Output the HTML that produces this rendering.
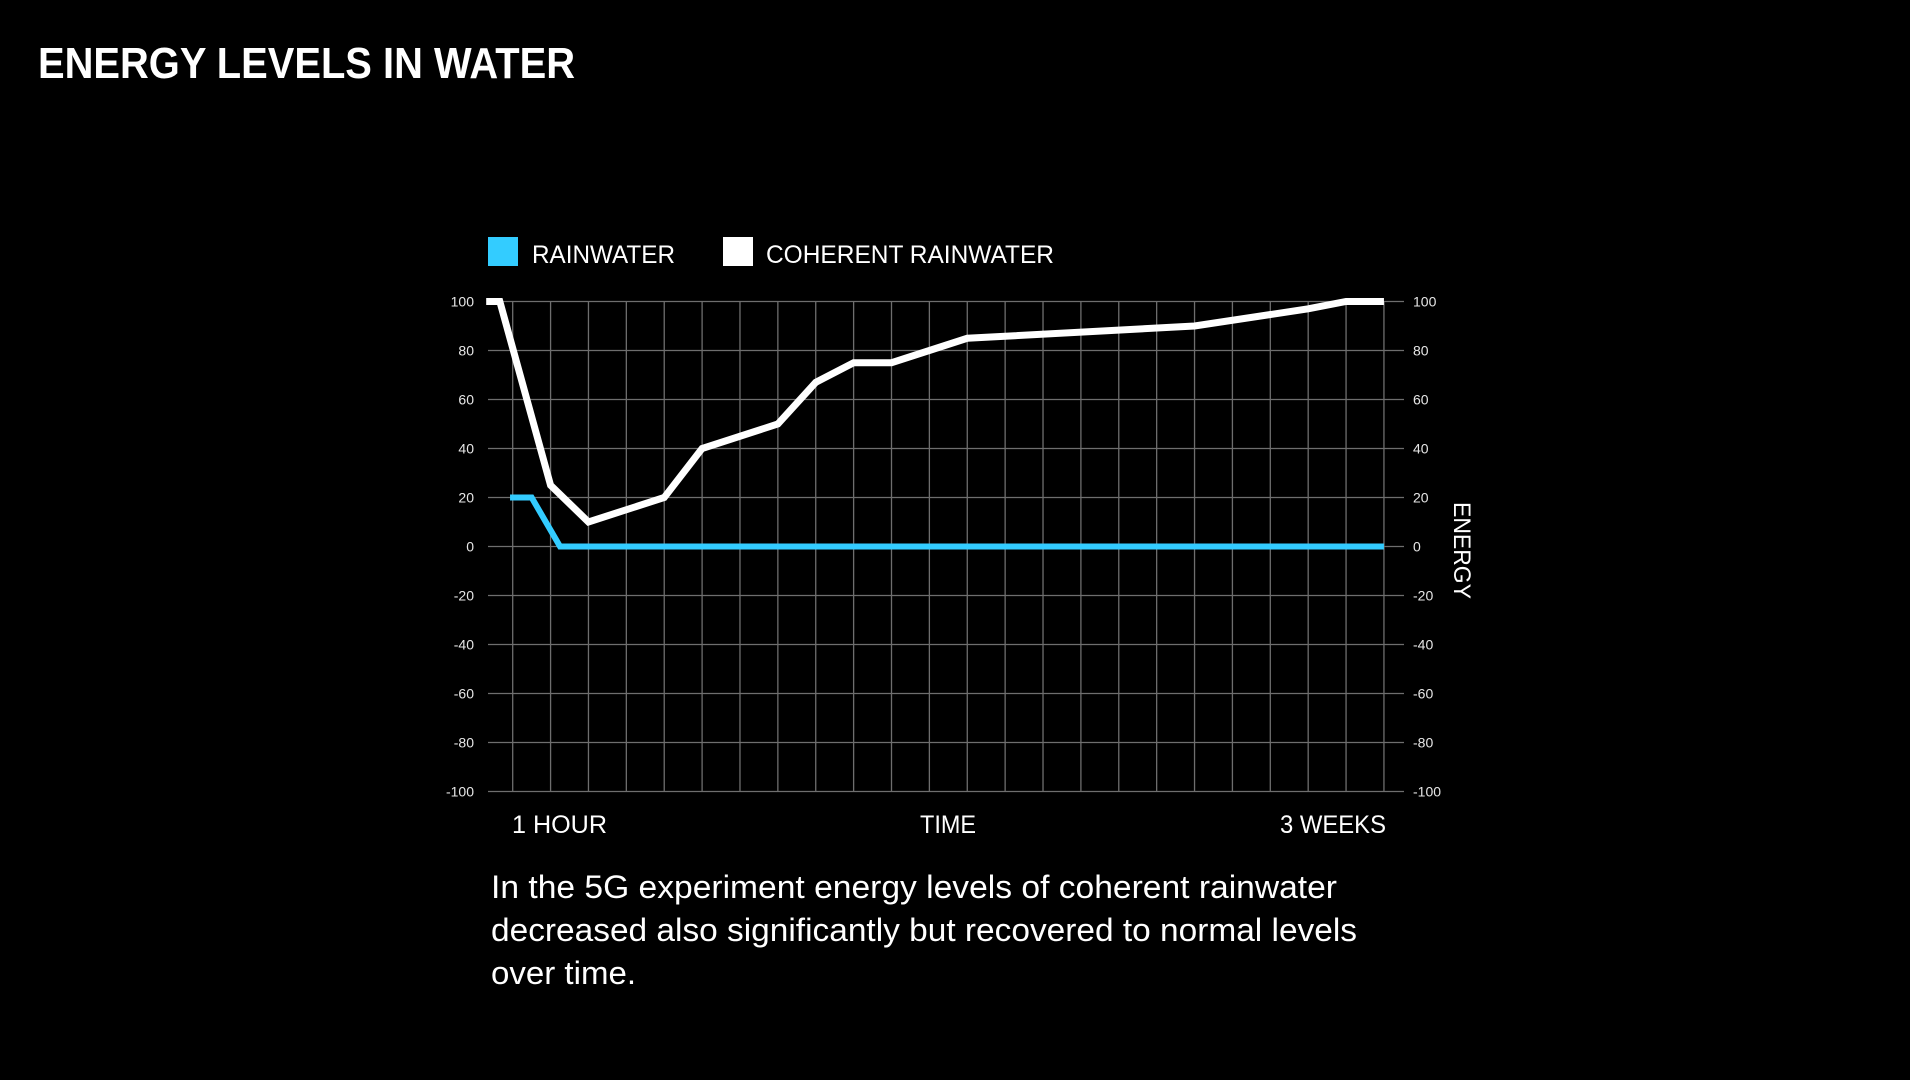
<!DOCTYPE html>
<html><head><meta charset="utf-8"><style>
html,body{margin:0;padding:0;background:#000;}
svg{display:block;}
text{font-family:"Liberation Sans",sans-serif;}
</style></head><body>
<svg id="chart" width="1910" height="1080" viewBox="0 0 1910 1080">
<rect x="0" y="0" width="1910" height="1080" fill="#000"/>
<text x="38" y="78" fill="#fff" font-size="44" font-weight="bold" textLength="537" lengthAdjust="spacingAndGlyphs">ENERGY LEVELS IN WATER</text>
<g>
<g>
<rect x="488" y="237" width="30" height="29" fill="#33ccff"/>
<text x="532" y="263" fill="#fff" font-size="25" textLength="143" lengthAdjust="spacingAndGlyphs">RAINWATER</text>
</g>
<g>
<rect x="723" y="237" width="30" height="29" fill="#fff"/>
<text x="766" y="263" fill="#fff" font-size="25" textLength="288" lengthAdjust="spacingAndGlyphs">COHERENT RAINWATER</text>
</g>
</g>
<g id="grid"></g>
<g id="ticks"></g>
<g id="series"></g>
<text x="512" y="833" fill="#fff" font-size="25" textLength="95" lengthAdjust="spacingAndGlyphs">1 HOUR</text>
<text x="920" y="833" fill="#fff" font-size="25" textLength="56" lengthAdjust="spacingAndGlyphs">TIME</text>
<text x="1280" y="833" fill="#fff" font-size="25" textLength="106" lengthAdjust="spacingAndGlyphs">3 WEEKS</text>
<text x="0" y="0" transform="translate(1454,502) rotate(90)" fill="#fff" font-size="24" textLength="97" lengthAdjust="spacingAndGlyphs">ENERGY</text>
<g fill="#fff" font-size="32">
<text x="491" y="898" textLength="846" lengthAdjust="spacingAndGlyphs">In the 5G experiment energy levels of coherent rainwater</text>
<text x="491" y="941" textLength="866" lengthAdjust="spacingAndGlyphs">decreased also significantly but recovered to normal levels</text>
<text x="491" y="984" textLength="145" lengthAdjust="spacingAndGlyphs">over time.</text>
</g>
</svg>
<script>
const yTicks = [100, 80, 60, 40, 20, 0, -20, -40, -60, -80, -100];
const gridCount = 24;
const coherentX = [-0.7, -0.34, 1, 2, 4, 5, 7, 8, 9, 10, 12, 18, 21, 22, 23];
const coherentY = [100, 100, 25, 10, 20, 40, 50, 67, 75, 75, 85, 90, 97, 100, 100];
const rainX = [-0.07, 0.5, 1.25, 23];
const rainY = [20, 20, 0, 0];

const NS = 'http://www.w3.org/2000/svg';
const x0 = 512.7, dx = 37.88;
const yTop = 301.5, yBot = 791.5, yMax = 100, yMin = -100;
function xs(i){ return x0 + i*dx; }
function ys(v){ return yBot - (v - yMin)/(yMax - yMin)*(yBot - yTop); }

const grid = document.getElementById('grid');
const ticks = document.getElementById('ticks');
yTicks.forEach(function(v){
  const l = document.createElementNS(NS,'line');
  l.setAttribute('x1',488); l.setAttribute('x2',1404);
  l.setAttribute('y1',ys(v)); l.setAttribute('y2',ys(v));
  l.setAttribute('stroke','#6e6e6e'); l.setAttribute('stroke-width','1.3');
  
  
  grid.appendChild(l);
  const tl = document.createElementNS(NS,'text');
  tl.setAttribute('x',474); tl.setAttribute('y',ys(v)+5);
  tl.setAttribute('text-anchor','end'); tl.setAttribute('fill','#e6e6e6'); tl.setAttribute('font-size','14');
  tl.textContent = v;
  
  
  ticks.appendChild(tl);
  const tr = document.createElementNS(NS,'text');
  tr.setAttribute('x',1413); tr.setAttribute('y',ys(v)+5);
  tr.setAttribute('fill','#e6e6e6'); tr.setAttribute('font-size','14');
  tr.textContent = v;
  
  
  ticks.appendChild(tr);
});
for (let i=0;i<gridCount;i++){
  const l = document.createElementNS(NS,'line');
  l.setAttribute('x1',xs(i)); l.setAttribute('x2',xs(i));
  l.setAttribute('y1',ys(yMax)); l.setAttribute('y2',ys(yMin));
  l.setAttribute('stroke','#6e6e6e'); l.setAttribute('stroke-width','1.3');
  
  
  grid.appendChild(l);
}
const series = document.getElementById('series');
function drawLine(xa, ya, color, w, name){
  const p = document.createElementNS(NS,'polyline');
  p.setAttribute('points', xa.map(function(x,i){ return xs(x)+','+ys(ya[i]); }).join(' '));
  p.setAttribute('fill','none'); p.setAttribute('stroke',color); p.setAttribute('stroke-width',w);
  p.setAttribute('stroke-linejoin','miter');
  
  
  series.appendChild(p);
}
drawLine(rainX, rainY, '#33ccff', 6, 'rainwater-line');
drawLine(coherentX, coherentY, '#ffffff', 7, 'coherent-rainwater-line');
</script>
</body></html>
